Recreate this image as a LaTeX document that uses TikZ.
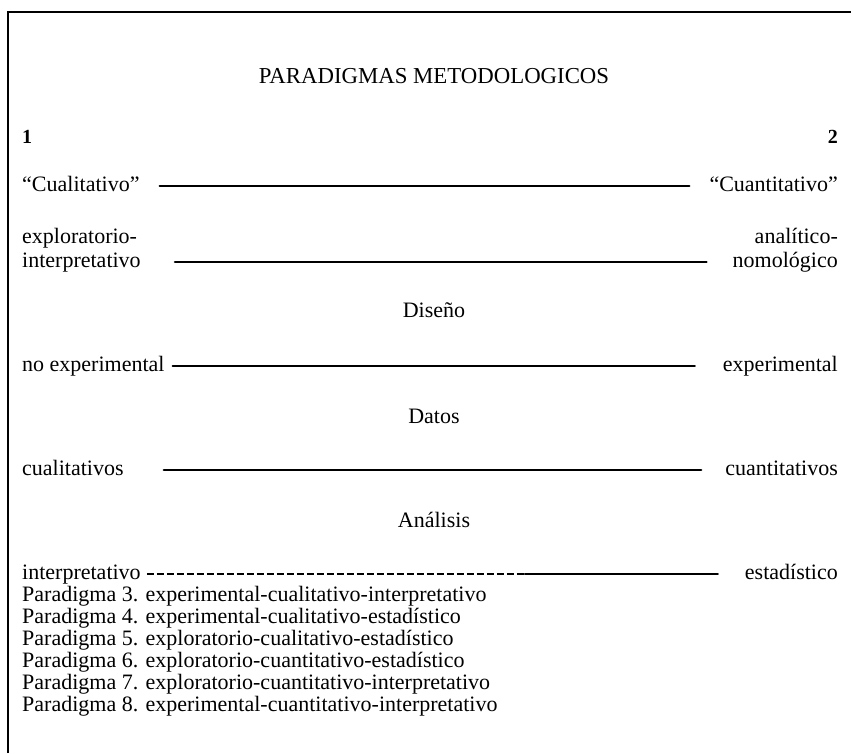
\documentclass[tikz,border=0pt]{standalone}
\usepackage{fontspec}
\setmainfont{Liberation Serif}
\usepackage{tikz}
\usetikzlibrary{positioning, calc}

\begin{document}
\begin{tikzpicture}[x=1pt, y=-1pt,
    txt/.style={inner sep=0pt, text height=15pt, text depth=5pt, font=\fontsize{22}{22}\selectfont},
    bar/.style={line width=2.4pt, line cap=round},
    dots/.style={line width=1.2pt, dash pattern=on 7pt off 3pt}]
    \useasboundingbox (0,0) rectangle (851,753);
    \draw[line width=1.6pt] (8,753) -- (8,12) -- (851,12);

    \node[txt, font=\fontsize{22.8}{22.8}\selectfont] (title) at (434,78) {PARADIGMAS METODOLOGICOS};
    \node[txt, anchor=west, font=\fontsize{20}{20}\selectfont\bfseries] (one) at (22,138) {1};
    \node[txt, anchor=east, font=\fontsize{20}{20}\selectfont\bfseries] (two) at (838,138) {2};

    % enfoque
    \node[txt, anchor=west] (cual) at (22,186) {``Cualitativo''};
    \node[txt, anchor=east] (cuan) at (838,186) {``Cuantitativo''};
    \draw[bar, shorten <=20pt, shorten >=20pt] (cual.east) -- (cuan.west);

    \node[txt, anchor=west] (explo) at (22,238) {exploratorio-};
    \node[txt, anchor=west] (inter) at (22,262) {interpretativo};
    \node[txt, anchor=east] (anali) at (838,238) {analítico-};
    \node[txt, anchor=east] (nomo) at (838,262) {nomológico};
    \draw[bar, shorten <=34pt, shorten >=26pt] (inter.east) -- (nomo.west);

    % diseño
    \node[txt] (diseno) at (434,312) {Diseño};
    \node[txt, anchor=west] (noexp) at (22,366) {no experimental};
    \node[txt, anchor=east] (exp) at (838,366) {experimental};
    \draw[bar, shorten <=8pt, shorten >=28pt] (noexp.east) -- (exp.west);

    % datos
    \node[txt] (datos) at (434,418) {Datos};
    \node[txt, anchor=west] (cualit) at (22,470) {cualitativos};
    \node[txt, anchor=east] (cuant) at (838,470) {cuantitativos};
    \draw[bar, shorten <=40pt, shorten >=24pt] (cualit.east) -- (cuant.west);

    % análisis
    \node[txt] (analisis) at (434,522) {Análisis};
    \node[txt, anchor=west] (interp) at (22,574) {interpretativo};
    \node[txt, anchor=east] (estad) at (838,574) {estadístico};
    \coordinate (cut) at (525,574);
    \draw[dots, shorten <=6pt] (interp.east) -- (cut);
    \draw[bar, shorten >=27pt] (cut) -- (estad.west);

    \foreach \k/\combo in {3/experimental-cualitativo-interpretativo,
        4/experimental-cualitativo-estadístico,
        5/exploratorio-cualitativo-estadístico,
        6/exploratorio-cuantitativo-estadístico,
        7/exploratorio-cuantitativo-interpretativo,
        8/experimental-cuantitativo-interpretativo} {
        \node[txt, anchor=west] (par\k) at (22,{596+22*(\k-3)}) {Paradigma \k. \combo};
    }
\end{tikzpicture}
\end{document}
